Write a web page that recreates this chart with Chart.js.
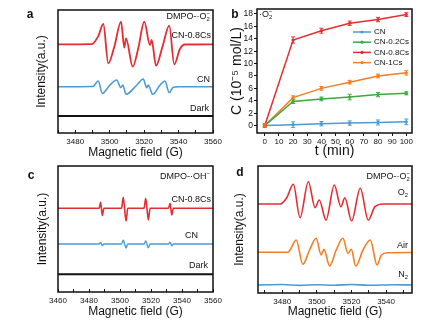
<!DOCTYPE html>
<html>
<head>
<meta charset="utf-8">
<script src="https://cdn.jsdelivr.net/npm/chart.js@4.4.1/dist/chart.umd.min.js"></script>
<style>
  html, body { margin: 0; padding: 0; background: #fff; }
  #fig { position: relative; width: 436px; height: 322px; overflow: hidden; background: #fff; }
  #fig canvas { position: absolute; left: 0; top: 0; }
</style>
</head>
<body>
<div id="fig">
  <canvas id="panelA" width="436" height="322"></canvas>
  <canvas id="panelB" width="436" height="322"></canvas>
  <canvas id="panelC" width="436" height="322"></canvas>
  <canvas id="panelD" width="436" height="322"></canvas>
</div>
<script>
// ---- (a) DMPO-·O2− spectra, field in G, intensity in a.u. (offset traces)
const fieldA08 = [3470, 3489.6, 3493.4, 3496.3, 3499.2, 3502.7, 3506.6, 3508.5, 3509.5, 3513.4, 3516.6, 3520.1, 3523.4, 3524.4, 3526.9, 3530.6, 3534.6, 3537.5, 3540.8, 3543.7, 3560];
const intA08 = [88.7, 88.9, 97, 109, 69.7, 86.3, 111.3, 85.3, 94.7, 66.3, 84.7, 111.3, 88, 93, 67.3, 86, 107.3, 68.7, 84, 88.5, 88.7];
const fieldACN = [3470, 3490.2, 3493.4, 3495.7, 3500.2, 3504.1, 3506.4, 3507.6, 3509.5, 3515.8, 3519.5, 3521.5, 3522.4, 3525, 3529.3, 3532.1, 3534.6, 3536.9, 3540, 3560];
const intACN = [46.3, 46.5, 52, 39.7, 48, 53, 45.3, 48, 38.7, 48, 54, 45.3, 48, 38.7, 48, 52, 40.3, 45.7, 46.3, 46.3];
const fieldADark = [3470, 3560];
const intADark = [17, 17];

// ---- (b) ·O2− concentration vs time
const timeMin = [0, 20, 40, 60, 80, 100];
const timeTicks = [0, 10, 20, 30, 40, 50, 60, 70, 80, 90, 100];
const concTicks = [0, 2, 4, 6, 8, 10, 12, 14, 16, 18];
const seriesNames = ['CN', 'CN-0.2Cs', 'CN-0.8Cs', 'CN-1Cs'];
const concCN = [0, 0.15, 0.3, 0.4, 0.5, 0.6];
const concCN02 = [0, 3.9, 4.3, 4.6, 5.0, 5.2];
const concCN08 = [0, 13.8, 15.3, 16.5, 17.1, 17.9];
const concCN1 = [0, 4.5, 6.0, 7.0, 8.0, 8.5];
const errCN = [0.3, 0.45, 0.35, 0.35, 0.4, 0.45];
const errCN02 = [0.2, 0.35, 0.3, 0.45, 0.35, 0.25];
const errCN08 = [0.2, 0.5, 0.4, 0.35, 0.35, 0.3];
const errCN1 = [0.2, 0.3, 0.3, 0.3, 0.3, 0.35];

// ---- (c) DMPO-·OH− spectra
const fieldC = [3460, 3486.5, 3487.5, 3488.6, 3489.6, 3501, 3502.1, 3503.9, 3505, 3515.5, 3516.6, 3518.3, 3519.4, 3531.3, 3532.3, 3533.4, 3534.4, 3560];
const intC08 = [83.7, 83.7, 89.7, 76.3, 83.7, 83.7, 94.7, 71, 83.7, 83.7, 93.7, 72, 83.7, 83.7, 88.7, 77, 83.7, 83.7];
const intCCN = [48, 48, 49.5, 46.5, 48, 48, 51.7, 44, 48, 48, 51, 44.3, 48, 48, 49.7, 46.3, 48, 48];
const fieldCDark = [3460, 3560];
const intCDark = [17.7, 17.7];

// ---- (d) DMPO-·O2− under O2 / air / N2
const fieldDO2 = [3466, 3478.7, 3482.6, 3486.4, 3490.3, 3495.1, 3499, 3501.4, 3505.3, 3510.1, 3513.9, 3516.2, 3520.1, 3525.1, 3529.7, 3533.6, 3538.5, 3555];
const intDO2 = [89, 89, 95.3, 108.7, 75.3, 111.3, 85.3, 93, 73, 108, 86.3, 95.3, 72, 104.7, 73, 86.3, 89, 89];
const fieldDAir = [3466, 3483.3, 3488.1, 3491.9, 3495.8, 3499.6, 3502.5, 3504.1, 3507.4, 3511.2, 3515.1, 3518, 3519.9, 3522.5, 3526.7, 3530.9, 3534.8, 3537.3, 3541.1, 3555];
const intDAir = [40.7, 40.7, 53, 28.7, 43, 54.7, 38, 43.7, 27, 43, 54.7, 39.7, 43.7, 27, 43, 53, 28, 38, 40.3, 40.5];
const fieldDN2 = [3466, 3480, 3490, 3500, 3510, 3520, 3530, 3545, 3555];
const intDN2 = [8, 8.5, 7.6, 8.3, 7.8, 8.5, 7.7, 8.2, 8];

const W = 436, H = 322;
const FONT = 'Arial, "Liberation Sans", Helvetica, sans-serif';
const INK = '#111';
const RED = '#e42d33', BLUE = '#4b9bd5', ORANGE = '#f57e22', GREEN = '#3daa3d';

Chart.defaults.font.family = FONT;
Chart.defaults.color = INK;

const pts = (xs, ys) => xs.map((x, i) => ({ x: x, y: ys[i] }));
const asTicks = vals => vals.map(v => ({ value: v }));

// text with optional sub/superscripts; a part flagged "stack" sits over the previous one
function drawRich(ctx, parts, x, y, size, align) {
  const small = size * 0.65;
  let w = 0, lastW = 0;
  parts.forEach(p => {
    ctx.font = (p[1] ? small : size) + 'px ' + FONT;
    const pw = ctx.measureText(p[0]).width;
    if (p[2]) { w += Math.max(0, pw - lastW); } else { w += pw; }
    lastW = pw;
  });
  let cx = align === 'right' ? x - w : (align === 'center' ? x - w / 2 : x);
  let prevX = cx;
  ctx.textAlign = 'left';
  ctx.textBaseline = 'middle';
  ctx.fillStyle = INK;
  parts.forEach(p => {
    const sz = p[1] ? small : size;
    ctx.font = sz + 'px ' + FONT;
    const dy = p[1] === 'sub' ? size * 0.3 : (p[1] === 'sup' ? -size * 0.38 : 0);
    const px = p[2] ? prevX : cx;
    ctx.fillText(p[0], px, y + dy);
    const pw = ctx.measureText(p[0]).width;
    prevX = px;
    cx = Math.max(cx, px + pw);
  });
}

const framePlugin = {
  id: 'frame',
  afterDraw(chart) {
    const a = chart.chartArea, ctx = chart.ctx;
    ctx.save();
    ctx.strokeStyle = INK;
    ctx.lineWidth = 1.5;
    ctx.strokeRect(a.left, a.top, a.right - a.left, a.bottom - a.top);
    ctx.restore();
  }
};

function notesPlugin(letter, notes) {
  return {
    id: 'notes',
    afterDraw(chart) {
      const ctx = chart.ctx;
      ctx.save();
      ctx.fillStyle = INK;
      ctx.font = 'bold 12px ' + FONT;
      ctx.textAlign = 'center';
      ctx.textBaseline = 'middle';
      ctx.fillText(letter.text, letter.x, letter.y);
      notes.forEach(n => drawRich(ctx, n.parts, n.x, n.y, n.size || 9, n.align || 'right'));
      ctx.restore();
    }
  };
}

function layoutFor(box) {
  return { padding: { left: box.axisLeft, top: box.top, right: W - box.right, bottom: H - box.axisBottom } };
}

function eprChart(id, box, xMin, xMax, yMax, traces, letter, notes) {
  return new Chart(document.getElementById(id), {
    type: 'line',
    data: {
      datasets: traces.map(t => ({
        data: pts(t.x, t.y),
        borderColor: t.color,
        borderWidth: t.width || 1.6,
        pointRadius: 0,
        fill: false,
        cubicInterpolationMode: 'monotone'
      }))
    },
    options: {
      responsive: false,
      animation: false,
      events: [],
      layout: layoutFor(box),
      plugins: { legend: { display: false }, tooltip: { enabled: false } },
      scales: {
        x: {
          type: 'linear', min: xMin, max: xMax,
          border: { display: false },
          grid: { drawOnChartArea: false, drawTicks: true, tickLength: -3, color: INK, lineWidth: 1 },
          ticks: {
            stepSize: 10, includeBounds: false, autoSkip: false, maxRotation: 0, minRotation: 0,
            padding: 6.5, color: INK, font: { size: 8 },
            callback: v => (v % 20 === 0 ? String(v) : '')
          },
          title: { display: true, text: 'Magnetic field (G)', color: INK, font: { size: 12 }, padding: { top: 0, bottom: 0 } },
          afterFit: s => { s.height = box.axisBottom - box.bottom; s.paddingLeft = 0; s.paddingRight = 0; }
        },
        y: {
          type: 'linear', min: 0, max: yMax,
          border: { display: false },
          grid: { display: false },
          ticks: { display: false },
          title: { display: true, text: 'Intensity(a.u.)', color: INK, font: { size: 12 }, padding: { top: 4.8, bottom: 0 } },
          afterFit: s => { s.width = box.left - box.axisLeft; s.paddingTop = 0; s.paddingBottom = 0; }
        }
      }
    },
    plugins: [framePlugin, notesPlugin(letter, notes)]
  });
}

const O2minus = [['DMPO-·O', ''], ['2', 'sub'], ['−', 'sup', true]];

// (a)
const boxA = { left: 58, right: 213, top: 10, bottom: 133, axisLeft: 30, axisBottom: 160 };
eprChart('panelA', boxA, 3470, 3560, 123, [
  { x: fieldA08, y: intA08, color: RED, width: 1.8 },
  { x: fieldACN, y: intACN, color: BLUE, width: 1.6 },
  { x: fieldADark, y: intADark, color: INK, width: 2 }
], { text: 'a', x: 30, y: 15 }, [
  { parts: O2minus, x: 210, y: 17 },
  { parts: [['CN-0.8Cs', '']], x: 211, y: 36 },
  { parts: [['CN', '']], x: 210, y: 80 },
  { parts: [['Dark', '']], x: 209, y: 109 }
]);

// (c)
const boxC = { left: 58, right: 213, top: 166, bottom: 292, axisLeft: 31, axisBottom: 319 };
eprChart('panelC', boxC, 3460, 3560, 126, [
  { x: fieldC, y: intC08, color: RED, width: 1.6 },
  { x: fieldC, y: intCCN, color: BLUE, width: 1.4 },
  { x: fieldCDark, y: intCDark, color: INK, width: 2 }
], { text: 'c', x: 31, y: 176 }, [
  { parts: [['DMPO-·OH', ''], ['−', 'sup']], x: 210, y: 177 },
  { parts: [['CN-0.8Cs', '']], x: 211, y: 200 },
  { parts: [['CN', '']], x: 198, y: 236 },
  { parts: [['Dark', '']], x: 208, y: 266 }
]);

// (d)
const boxD = { left: 258, right: 412, top: 166, bottom: 293, axisLeft: 228, axisBottom: 319 };
eprChart('panelD', boxD, 3466, 3555, 127, [
  { x: fieldDO2, y: intDO2, color: RED, width: 1.6 },
  { x: fieldDAir, y: intDAir, color: ORANGE, width: 1.6 },
  { x: fieldDN2, y: intDN2, color: BLUE, width: 1.6 }
], { text: 'd', x: 240, y: 173 }, [
  { parts: O2minus, x: 410, y: 177 },
  { parts: [['O', ''], ['2', 'sub']], x: 408, y: 193 },
  { parts: [['Air', '']], x: 408, y: 246 },
  { parts: [['N', ''], ['2', 'sub']], x: 408, y: 275 }
]);

// (b) kinetics with error bars and an inset legend
const boxB = { left: 257, right: 412, top: 9, bottom: 133, axisLeft: 228, axisBottom: 160 };
const kinetics = [
  { y: concCN, err: errCN, color: BLUE },
  { y: concCN02, err: errCN02, color: GREEN },
  { y: concCN08, err: errCN08, color: RED },
  { y: concCN1, err: errCN1, color: ORANGE }
];

const errorBarPlugin = {
  id: 'errorBars',
  afterDatasetsDraw(chart) {
    const ctx = chart.ctx, xs = chart.scales.x, ys = chart.scales.y;
    ctx.save();
    ctx.lineWidth = 1;
    kinetics.forEach(k => {
      ctx.strokeStyle = k.color;
      timeMin.forEach((t, i) => {
        const px = xs.getPixelForValue(t);
        const y1 = ys.getPixelForValue(k.y[i] + k.err[i]);
        const y2 = ys.getPixelForValue(k.y[i] - k.err[i]);
        ctx.beginPath();
        ctx.moveTo(px, y1); ctx.lineTo(px, y2);
        ctx.moveTo(px - 2, y1); ctx.lineTo(px + 2, y1);
        ctx.moveTo(px - 2, y2); ctx.lineTo(px + 2, y2);
        ctx.stroke();
      });
    });
    ctx.restore();
  }
};

const insetLegend = {
  id: 'insetLegend',
  afterDraw(chart) {
    const ctx = chart.ctx;
    ctx.save();
    kinetics.forEach((k, i) => {
      const y = 32 + i * 10.2;
      ctx.strokeStyle = k.color;
      ctx.fillStyle = k.color;
      ctx.lineWidth = 1.5;
      ctx.beginPath(); ctx.moveTo(353, y); ctx.lineTo(371, y); ctx.stroke();
      ctx.beginPath(); ctx.arc(362, y, 1.6, 0, Math.PI * 2); ctx.fill();
      ctx.fillStyle = INK;
      ctx.font = '8px ' + FONT;
      ctx.textAlign = 'left';
      ctx.textBaseline = 'middle';
      ctx.fillText(seriesNames[i], 374, y);
    });
    ctx.restore();
  }
};

new Chart(document.getElementById('panelB'), {
  type: 'line',
  data: {
    datasets: kinetics.map((k, i) => ({
      label: seriesNames[i],
      data: pts(timeMin, k.y),
      borderColor: k.color,
      backgroundColor: k.color,
      borderWidth: 1.5,
      pointRadius: 1.6,
      pointBorderWidth: 0,
      fill: false,
      tension: 0
    }))
  },
  options: {
    responsive: false,
    animation: false,
    events: [],
    layout: layoutFor(boxB),
    plugins: { legend: { display: false }, tooltip: { enabled: false } },
    scales: {
      x: {
        type: 'linear', min: -5.5, max: 104,
        border: { display: false },
        grid: { drawOnChartArea: false, tickLength: 3, color: INK },
        afterBuildTicks: s => { s.ticks = asTicks(timeTicks); },
        ticks: { autoSkip: false, maxRotation: 0, minRotation: 0, padding: 0.5, color: INK, font: { size: 8 } },
        title: { display: true, text: 't (min)', color: INK, font: { size: 14 }, padding: { top: 1.6, bottom: 0 } },
        afterFit: s => { s.height = boxB.axisBottom - boxB.bottom; s.paddingLeft = 0; s.paddingRight = 0; }
      },
      y: {
        type: 'linear', min: -1.2, max: 18.8,
        border: { display: false },
        grid: { drawOnChartArea: false, tickLength: 3, color: INK },
        afterBuildTicks: s => { s.ticks = asTicks(concTicks); },
        ticks: { autoSkip: false, padding: 1, color: INK, font: { size: 8.5 } },
        title: { display: true, text: 'C (10⁻⁵ mol/L)', color: INK, font: { size: 14 }, padding: { top: 0.6, bottom: 0 } },
        afterFit: s => { s.width = boxB.left - boxB.axisLeft; s.paddingTop = 0; s.paddingBottom = 0; }
      }
    }
  },
  plugins: [errorBarPlugin, framePlugin, insetLegend, notesPlugin({ text: 'b', x: 235, y: 15 }, [
    { parts: [['·O', ''], ['2', 'sub'], ['−', 'sup', true]], x: 259, y: 15, align: 'left' }
  ])]
});
</script>
</body>
</html>
